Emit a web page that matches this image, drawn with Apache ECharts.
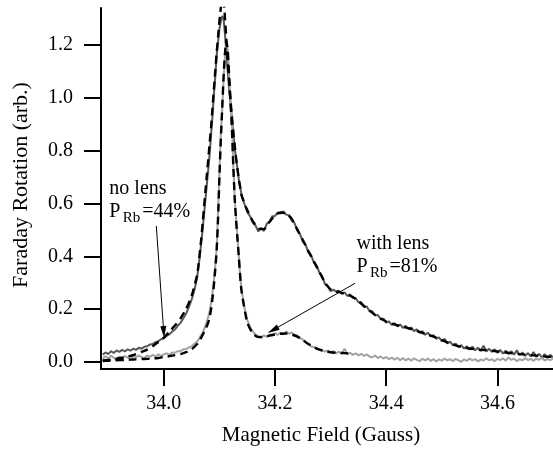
<!DOCTYPE html>
<html><head><meta charset="utf-8">
<script src="https://cdn.jsdelivr.net/npm/echarts@6/dist/echarts.min.js"></script>
<style>html,body{margin:0;padding:0;background:#fff}#c{width:553px;height:451px}</style>
</head><body><div id="c"></div>
<script>
// ---------- data ----------
const dataField = [
33.890,33.895,33.900,33.905,33.910,33.915,33.920,33.925,33.930,33.935,
33.940,33.945,33.950,33.955,33.960,33.965,33.970,33.975,33.980,33.985,
33.990,33.995,34.000,34.005,34.010,34.015,34.020,34.025,34.030,34.035,
34.040,34.045,34.050,34.055,34.060,34.065,34.070,34.075,34.080,
34.0825,34.085,34.0875,34.090,34.0925,34.095,34.0975,34.100,34.1025,34.105,
34.1075,34.110,34.1125,34.115,34.1175,34.120,34.1225,34.125,34.1275,34.130,
34.1325,34.135,34.1375,34.140,
34.145,34.150,34.155,34.160,34.165,34.170,34.175,34.180,34.185,34.190,
34.195,34.200,34.205,34.210,34.215,34.220,34.225,34.230,34.235,34.240,
34.245,34.250,34.255,34.260,34.265,34.270,34.275,34.280,34.285,34.290,
34.295,34.300,34.305,34.310,34.315,34.320,34.325,34.330,34.335,34.340,
34.345,34.350,34.355,34.360,34.365,34.370,34.375,34.380,34.385,34.390,
34.395,34.400,34.405,34.410,34.415,34.420,34.425,34.430,34.435,34.440,
34.445,34.450,34.455,34.460,34.465,34.470,34.475,34.480,34.485,34.490,
34.495,34.500,34.505,34.510,34.515,34.520,34.525,34.530,34.535,34.540,
34.545,34.550,34.555,34.560,34.565,34.570,34.575,34.580,34.585,34.590,
34.595,34.600,34.605,34.610,34.615,34.620,34.625,34.630,34.635,34.640,
34.645,34.650,34.655,34.660,34.665,34.670,34.675,34.680,34.685,34.690,
34.695,34.700
];
const noLensSignal = [
0.028,0.036,0.030,0.041,0.034,0.044,0.038,0.046,0.040,0.048,
0.043,0.050,0.046,0.054,0.050,0.058,0.060,0.066,0.068,0.075,
0.079,0.086,0.090,0.099,0.105,0.115,0.123,0.137,0.148,0.166,
0.183,0.208,0.236,0.272,0.320,0.405,0.505,0.620,0.730,
0.790,0.860,0.930,1.010,1.080,1.160,1.210,1.260,1.290,1.310,
1.300,1.240,1.170,1.100,1.030,0.980,0.920,0.870,0.810,0.770,
0.730,0.690,0.660,0.630,
0.598,0.568,0.552,0.528,0.516,0.494,0.508,0.496,0.522,0.532,
0.552,0.553,0.566,0.562,0.570,0.558,0.556,0.536,0.526,0.498,
0.484,0.456,0.444,0.414,0.404,0.376,0.364,0.338,0.324,0.294,
0.286,0.268,0.274,0.266,0.270,0.258,0.264,0.250,0.256,0.242,
0.242,0.226,0.226,0.208,0.210,0.192,0.192,0.176,0.178,0.162,
0.164,0.149,0.154,0.140,0.147,0.135,0.142,0.129,0.137,0.124,
0.131,0.117,0.124,0.110,0.117,0.103,0.111,0.097,0.102,0.088,
0.093,0.079,0.088,0.070,0.077,0.063,0.070,0.056,0.064,0.051,
0.060,0.047,0.058,0.044,0.054,0.041,0.062,0.040,0.050,0.038,
0.048,0.035,0.046,0.032,0.043,0.030,0.041,0.028,0.044,0.026,
0.036,0.023,0.034,0.021,0.038,0.020,0.031,0.017,0.030,0.016,
0.027,0.018
];
const lensSignal = [
0.012,0.022,0.014,0.024,0.016,0.010,0.021,0.014,0.023,0.016,
0.012,0.022,0.017,0.025,0.018,0.015,0.025,0.019,0.027,0.021,
0.029,0.023,0.029,0.033,0.028,0.036,0.035,0.041,0.041,0.048,
0.049,0.055,0.059,0.069,0.077,0.095,0.111,0.139,0.171,
0.195,0.225,0.262,0.310,0.365,0.430,0.560,0.720,0.860,0.960,
1.070,1.160,1.210,1.180,1.080,0.990,0.900,0.740,0.620,0.540,
0.470,0.400,0.320,0.270,
0.205,0.160,0.132,0.115,0.104,0.098,0.092,0.101,0.095,0.104,
0.099,0.109,0.103,0.111,0.105,0.116,0.107,0.112,0.103,0.100,
0.091,0.085,0.075,0.069,0.059,0.057,0.049,0.047,0.043,0.040,
0.043,0.035,0.041,0.033,0.039,0.031,0.050,0.029,0.035,0.027,
0.033,0.025,0.031,0.023,0.029,0.021,0.017,0.025,0.015,0.021,
0.013,0.019,0.011,0.017,0.009,0.016,0.007,0.015,0.006,0.013,
0.005,0.014,0.008,0.003,0.012,0.006,0.013,0.004,0.011,0.002,
0.010,0.005,0.013,0.006,0.011,0.003,0.012,0.006,0.001,0.010,
0.004,0.013,0.006,0.011,0.002,0.010,0.005,0.014,0.006,0.011,
0.003,0.012,0.007,0.014,0.005,0.017,0.008,0.013,0.003,0.011,
0.006,0.015,0.007,0.012,0.004,0.013,0.008,0.016,0.005,0.012,
0.007,0.013
];
const fitField = [
33.89,33.90,33.91,33.92,33.93,33.94,33.95,33.96,33.97,33.98,
33.99,34.00,34.01,34.02,34.03,34.04,34.05,34.06,
34.0625,34.065,34.0675,34.07,34.0725,34.075,34.0775,34.08,
34.0825,34.085,34.0875,34.09,34.0925,34.095,34.0975,34.10,
34.1025,34.105,34.1075,34.11,34.1125,34.115,34.1175,34.12,
34.1225,34.125,34.1275,34.13,34.1325,34.135,34.1375,34.14,
34.15,34.16,34.17,34.18,34.19,34.20,34.21,34.22,34.23,34.24,
34.25,34.26,34.27,34.28,34.29,34.30,34.31,34.32,34.33,34.34,
34.35,34.36,34.37,34.38,34.39,34.40,34.41,34.42,34.43,34.44,
34.45,34.46,34.47,34.48,34.49,34.50,34.51,34.52,34.53,34.54,
34.55,34.56,34.57,34.58,34.59,34.60,34.61,34.62,34.63,34.64,
34.65,34.66,34.67,34.68,34.69,34.70
];
const noLensFit = [
0.006,0.008,0.011,0.014,0.018,0.023,0.030,0.038,0.047,0.060,
0.076,0.092,0.115,0.138,0.165,0.200,0.250,0.330,
0.37,0.42,0.47,0.53,0.59,0.65,0.71,0.77,
0.83,0.89,0.96,1.03,1.10,1.17,1.23,1.29,
1.34,1.37,1.37,1.30,1.22,1.13,1.06,0.99,
0.93,0.87,0.82,0.77,0.73,0.69,0.66,0.63,
0.575,0.533,0.505,0.503,0.530,0.555,0.566,0.562,0.542,0.502,
0.462,0.420,0.380,0.340,0.300,0.275,0.267,0.262,0.255,0.246,
0.230,0.212,0.195,0.178,0.165,0.153,0.145,0.139,0.133,0.128,
0.121,0.114,0.107,0.100,0.092,0.083,0.074,0.067,0.060,0.055,
0.051,0.049,0.046,0.045,0.043,0.040,0.037,0.035,0.032,0.030,
0.028,0.026,0.024,0.022,0.020,0.019
];
const lensFit = [
0.004,0.005,0.006,0.007,0.008,0.009,0.010,0.011,0.012,0.013,
0.015,0.019,0.022,0.026,0.030,0.037,0.048,0.068,
0.076,0.084,0.093,0.103,0.114,0.125,0.137,0.150,
0.170,0.200,0.240,0.290,0.350,0.420,0.540,0.700,
0.840,0.960,1.080,1.170,1.215,1.180,1.080,0.980,
0.880,0.740,0.620,0.535,0.465,0.395,0.320,0.265,
0.150,0.108,0.094,0.095,0.100,0.104,0.107,0.108,0.104,0.096,
0.083,0.068,0.056,0.047,0.041,0.037,0.035,0.034,0.033,0.032
];
const xTicks = [34.0, 34.2, 34.4, 34.6];
const yTicks = [0.0, 0.2, 0.4, 0.6, 0.8, 1.0, 1.2];
const xTitle = 'Magnetic Field (Gauss)';
const yTitle = 'Faraday Rotation (arb.)';
const noLensText = ['no lens', 'P', 'Rb', '=44%'];
const lensText = ['with lens', 'P', 'Rb', '=81%'];

// ---------- layout / style ----------
const FONT = 'Liberation Serif';
const W = 553, H = 451;
const GRID = {left: 101, right: 0, top: 8, bottom: 82};
const X_MIN = 33.887, X_MAX = 34.70, Y_MIN = -0.0265, Y_MAX = 1.34;
// annotation anchors in data space (left edge, baseline of the first / second line)
const noLensAnchor = {x: 33.902, y1: 0.632, y2: 0.544};
const lensAnchor = {x: 34.3466, y1: 0.421, y2: 0.336};
const arrowNoLens = [[33.9865, 0.515], [33.9998, 0.1135]];
const arrowLens = [[34.344, 0.298], [34.1964, 0.121]];

function pairs(xs, ys) { return ys.map((y, i) => [xs[i], y]); }
const fmt = v => Number(v).toFixed(1);
const dashed = {color: '#000', width: 2.4, type: [8, 5]};
const arrowLine = (a) => [
  {coord: a[0], symbol: 'none'},
  {coord: a[1], symbol: 'triangle', symbolSize: [6, 12]}
];

// same linear mapping as the value axes of the grid
const PW = W - GRID.left - GRID.right, PH = H - GRID.top - GRID.bottom;
const AXIS_Y = GRID.top + PH;
function toPx(x, y) {
  return [GRID.left + (x - X_MIN) / (X_MAX - X_MIN) * PW,
          GRID.top + (Y_MAX - y) / (Y_MAX - Y_MIN) * PH];
}
const txt = (x, y, s, fs, align, vAlign, rot) => ({type: 'text', x: x, y: y, rotation: rot || 0, silent: true,
  style: {text: s, fontFamily: FONT, fontSize: fs, fill: '#000', align: align, verticalAlign: vAlign}});

function noteGroup(anchor, texts) {
  const p1 = toPx(anchor.x, anchor.y1);
  const p2 = toPx(anchor.x, anchor.y2);
  const big = 20, sub = 15;
  const mid = (base, fs) => base - 0.3375 * fs;
  return [
    txt(p1[0], mid(p1[1], big), texts[0], big, 'left', 'middle'),
    txt(p2[0], mid(p2[1], big), texts[1], big, 'left', 'middle'),
    txt(p2[0] + 13.5, mid(p2[1] + 5, sub), texts[2], sub, 'left', 'middle'),
    txt(p2[0] + 33, mid(p2[1], big), texts[3], big, 'left', 'middle')
  ];
}
function axisTexts() {
  const out = [];
  xTicks.forEach(v => out.push(txt(toPx(v, 0)[0], AXIS_Y + 25, fmt(v), 20, 'center', 'top')));
  yTicks.forEach(v => out.push(txt(GRID.left - 28, toPx(X_MIN, v)[1], fmt(v), 20, 'right', 'middle')));
  out.push(txt(GRID.left + PW / 2 - 6, AXIS_Y + 56, xTitle, 21, 'center', 'top'));
  out.push(txt(GRID.left - 80, GRID.top + PH / 2 - 3.5, yTitle, 22, 'center', 'middle', Math.PI / 2));
  return out;
}

const option = {
  animation: false,
  backgroundColor: '#fff',
  textStyle: {fontFamily: FONT},
  grid: GRID,
  xAxis: {
    type: 'value', min: X_MIN, max: X_MAX,
    axisLine: {show: true, onZero: false, lineStyle: {color: '#000', width: 2}},
    axisTick: {show: true, length: 17, customValues: xTicks, lineStyle: {color: '#000', width: 2}},
    axisLabel: {show: false},
    splitLine: {show: false}
  },
  yAxis: {
    type: 'value', min: Y_MIN, max: Y_MAX,
    axisLine: {show: true, onZero: false, lineStyle: {color: '#000', width: 2}},
    axisTick: {show: true, length: 17, customValues: yTicks, lineStyle: {color: '#000', width: 2}},
    axisLabel: {show: false},
    splitLine: {show: false}
  },
  graphic: axisTexts().concat(noteGroup(noLensAnchor, noLensText), noteGroup(lensAnchor, lensText)),
  series: [
    {name: 'no lens data', type: 'line', data: pairs(dataField, noLensSignal), showSymbol: false,
     lineStyle: {color: '#575757', width: 2}, z: 2,
     markLine: {silent: true, animation: false, label: {show: false},
       lineStyle: {color: '#000', width: 1, type: 'solid'}, emphasis: {disabled: true},
       data: [arrowLine(arrowNoLens), arrowLine(arrowLens)]}},
    {name: 'with lens data', type: 'line', data: pairs(dataField, lensSignal), showSymbol: false,
     lineStyle: {color: '#a2a2a2', width: 2}, z: 2},
    {name: 'no lens fit', type: 'line', data: pairs(fitField, noLensFit), showSymbol: false,
     smooth: 0.2, lineStyle: dashed, z: 3},
    {name: 'with lens fit', type: 'line', data: pairs(fitField, lensFit), showSymbol: false,
     smooth: 0.2, lineStyle: dashed, z: 3}
  ]
};

const chart = echarts.init(document.getElementById('c'));
chart.setOption(option);
</script></body></html>
